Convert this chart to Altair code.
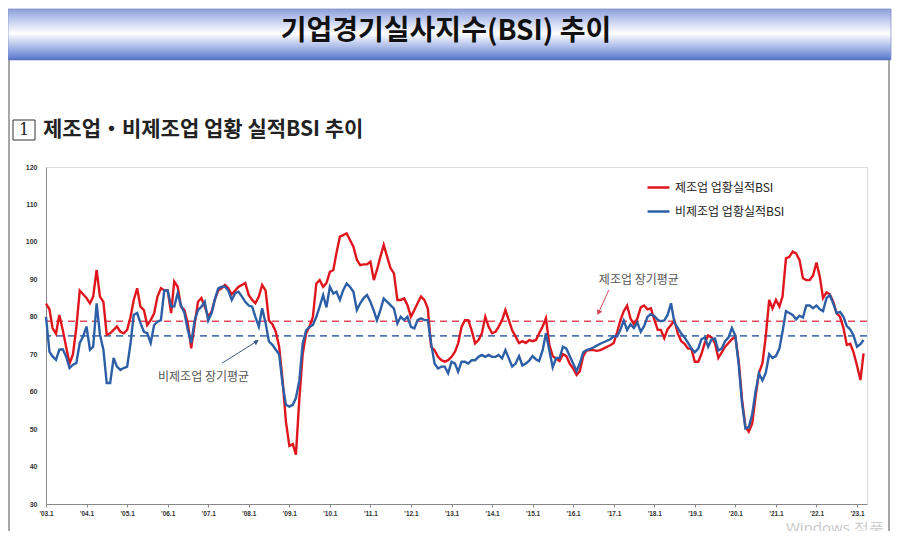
import json
import altair as alt
import pandas as pd

# ---------------- data ----------------
START = "2003-01-01"
SERIES = ["제조업 업황실적BSI", "비제조업 업황실적BSI"]
COLORS = ["#e0161e", "#2d5fa6"]

MANUF = [
    83.5, 82, 77, 75.5, 80.5, 76.5, 72, 67.5, 70, 77, 87, 86,            # 2003
    85, 83.6, 85.4, 92.5, 85.4, 84, 75.2, 75.6, 76.5, 77.4, 76, 75.6,    # 2004
    76.5, 80, 84.5, 87.6, 82.7, 81.8, 77.8, 79.1, 80.9, 85.4, 87.6, 87.1,  # 2005
    87, 81, 89.4, 88, 82.7, 81.8, 78.3, 71.6, 78, 84, 85, 82.7,          # 2006
    80, 81.4, 84.5, 87, 87.6, 88.5, 87.6, 86, 87, 88, 88.5, 89,          # 2007
    85.8, 84.5, 83.6, 85.4, 88.5, 87, 79, 78, 76, 72, 63, 52,            # 2008
    45.5, 46, 43.2, 58, 70, 75.6, 77.3, 80, 88.9, 89.8, 88, 89,          # 2009
    92, 92.5, 97, 101.4, 101.8, 102.3, 100.5, 98.7, 95.2, 93.8, 94, 94,  # 2010
    94.7, 89.8, 92.5, 96, 99.2, 96, 93, 91.6, 84.5, 84.5, 84.9, 83.1,    # 2011
    80, 81.8, 83.6, 85.4, 84.5, 82.2, 72, 71.1, 69.3, 68.4, 68, 68.4,    # 2012
    69.3, 70.7, 72.9, 77.3, 79.1, 79.1, 76.4, 72.9, 73.8, 75.6, 80, 77.3,  # 2013
    75.6, 76, 77.3, 79.1, 81.8, 79.1, 76.4, 74.7, 73, 73.5, 73, 73.8,    # 2014
    73.5, 73.8, 75.6, 77.4, 79.6, 72.5, 69.5, 68.8, 68.2, 70, 69.5, 67.5,  # 2015
    66.2, 64.5, 65.5, 69.5, 71, 71.1, 71.1, 70.9, 71.1, 71.5, 72, 72.4,  # 2016
    73, 76, 79, 81.5, 83, 79.5, 78, 79.5, 82.5, 83, 82, 82.3,            # 2017
    79.3, 76.5, 76.5, 74.3, 76.7, 77.8, 79, 75.5, 73.5, 72.8, 71.5, 71.5,  # 2018
    68, 68, 70, 73, 75, 74.5, 73, 69, 70.5, 72, 73, 74,                  # 2019
    74.7, 68, 58, 50.6, 49.3, 51.5, 58.6, 65, 67.6, 74.7, 84.5, 82.2,    # 2020
    84.5, 82.7, 85.4, 95.6, 96, 97.4, 96.9, 95.2, 90.3, 89.8, 89.8, 91,  # 2021
    94.5, 90.5, 85, 86.5, 86, 84, 81, 80, 77, 72.5, 72.8, 70.5,          # 2022
    67, 63.1, 70.2,                                                      # 2023
]

NONMANUF = [
    80, 70.7, 69.4, 68.5, 71.2, 71.3, 69.4, 66.3, 67.2, 67.6, 73, 74.7,  # 2003
    77.4, 71.2, 72, 83.6, 75.2, 71.2, 62.3, 62.3, 69, 66.7, 65.8, 66.3,  # 2004
    66.7, 73, 80.5, 81, 78.3, 76, 75.6, 73, 77.8, 78.7, 79.1, 87,        # 2005
    87, 82.7, 82.7, 86.3, 83, 81, 76.5, 73, 79, 81.8, 82.7, 84,          # 2006
    79, 81, 84.5, 87.6, 88, 88, 87, 84.5, 86.3, 86.7, 85.4, 84,          # 2007
    83, 82.7, 80, 77.4, 82.3, 78.3, 73.4, 72.5, 71.2, 70, 62, 56.5,      # 2008
    56, 56.5, 58.3, 63, 72.9, 76.4, 77.3, 77.8, 80, 82.7, 85.8, 82.5,    # 2009
    88, 86.2, 86.7, 84.5, 87.1, 88.9, 88, 86.7, 81.8, 83.6, 85, 85.8,    # 2010
    84, 81.6, 79.1, 81.8, 84.9, 84, 83.1, 82.2, 78.2, 80, 79.1, 80,      # 2011
    77.3, 76.9, 79.1, 79.6, 79.1, 79.1, 72.9, 67.5, 66.2, 66.7, 66.7, 64.9,  # 2012
    68, 67.5, 65.3, 68, 68, 67.5, 68.4, 68.4, 69.3, 69.8, 69.3, 69.8,    # 2013
    69.3, 69.3, 69.8, 68.9, 71.1, 68.9, 66.7, 67.5, 69.5, 67, 67.5, 68.3,  # 2014
    69.5, 68.6, 68.2, 71, 75.6, 71, 66.5, 69, 69, 72, 71.5, 69.5,        # 2015
    67.5, 65.5, 67.5, 70.5, 71.1, 71.4, 71.8, 72.3, 72.8, 73.2, 73.6, 74,  # 2016
    74.8, 74.8, 76.5, 79, 76.5, 78, 77, 78.5, 76, 77.5, 80, 80.7,        # 2017
    80.2, 79.2, 78.8, 79, 80.5, 83.6, 78.5, 77, 75.5, 74.5, 73, 71.5,    # 2018
    70.5, 71.5, 74, 74.5, 72, 74, 74.2, 71, 71.5, 73.5, 74.5, 77,        # 2019
    75, 67, 57, 50.2, 50.5, 54, 60, 64.9, 63, 65, 70, 69,                # 2020
    69.5, 71.5, 76, 81.5, 81, 80.5, 79.3, 80.3, 79.8, 83, 83, 82.3,      # 2021
    83, 82, 81.5, 85, 85.8, 83.5, 81, 81.3, 80, 77.5, 76.6, 75,          # 2022
    72, 72.7, 73.8,                                                      # 2023
]

AVG_VALUES = [78.8, 74.9]
AVG_COLORS = ["#e5485a", "#5478b3"]

YEARS = list(range(2003, 2024))
XTICK_LABELS = ["'03.1", "'04.1", "'05.1", "'06.1", "'07.1", "'08.1", "'09.1",
                "'10.1", "'11.1", "'12.1", "'13.1", "'14.1", "'15.1", "'16.1",
                "'17.1", "'18.1", "'19.1", "'20.1", "'21.1", "'22.1", "'23.1"]
Y_TICKS = [30, 40, 50, 60, 70, 80, 90, 100, 110, 120]

TITLE = "기업경기실사지수(BSI) 추이"
SUB_NO = "1"
SUBTITLE = "제조업・비제조업 업황 실적BSI 추이"
WATERMARK = "Windows 정품"

ANN_TEXT = ["제조업 장기평균", "비제조업 장기평균"]
ANN_DATE = ["2017-08-15T00:00:00", "2006-11-20T00:00:00"]
ANN_VALUE = [89.8, 63.9]

ARROW_FROM_DATE = ["2016-11-18T00:00:00", "2007-05-05T00:00:00"]
ARROW_FROM_VALUE = [87.2, 67.6]
ARROW_TO_DATE = ["2016-08-20T00:00:00", "2008-03-05T00:00:00"]
ARROW_TO_VALUE = [81.3, 73.3]
ARROW_ANGLE = [204, 58]
ARROW_COLOR = ["#d9485a", "#3c5a88"]

FONT = "Noto Sans CJK KR"

# ---------------- tables ----------------
dates = pd.date_range(START, periods=len(MANUF), freq="MS").strftime("%Y-%m-%dT00:00:00").tolist()
rows = []
for d, v in zip(dates, MANUF):
    rows.append({"date": d, "value": v, "series": SERIES[0]})
dates_b = pd.date_range(START, periods=len(NONMANUF), freq="MS").strftime("%Y-%m-%dT00:00:00").tolist()
for d, v in zip(dates_b, NONMANUF):
    rows.append({"date": d, "value": v, "series": SERIES[1]})
df = pd.DataFrame(rows)

ann_df = pd.DataFrame({"date": ANN_DATE, "value": ANN_VALUE, "text": ANN_TEXT})
arrow_df = pd.DataFrame({
    "d1": ARROW_FROM_DATE, "v1": ARROW_FROM_VALUE,
    "d2": ARROW_TO_DATE, "v2": ARROW_TO_VALUE,
    "angle": ARROW_ANGLE, "col": ARROW_COLOR,
})
one = pd.DataFrame({"k": [0]})

# ---------------- scales / axes (shared by every layer) ----------------
x_scale = alt.Scale(domain=[alt.DateTime(year=2003, month=1, date=1),
                            alt.DateTime(year=2023, month=4, date=1)])
label_expr = json.dumps(XTICK_LABELS) + "[year(datum.value) - 2003]"
x_axis = alt.Axis(values=[alt.DateTime(year=y, month=1, date=1) for y in YEARS],
                  labelExpr=label_expr, title=None, grid=False,
                  tickSize=3, tickColor="#888", domainColor="#888",
                  labelFontSize=6.5, labelFontWeight="bold", labelColor="#333",
                  labelFont="Liberation Sans", labelPadding=3, labelFlush=False,
                  labelOverlap=False)
y_scale = alt.Scale(domain=[30, 120], nice=False, zero=False)
y_axis = alt.Axis(values=Y_TICKS, title=None, grid=False, ticks=False,
                  domainColor="#888", labelFontSize=7, labelFontWeight="bold",
                  labelColor="#333", labelFont="Liberation Sans", labelPadding=9,
                  labelOverlap=False, labelFlush=False)


def X(field):
    return alt.X(field, type="temporal", scale=x_scale, axis=x_axis)


def Y(field):
    return alt.Y(field, type="quantitative", scale=y_scale, axis=y_axis)


color_enc = alt.Color(
    "series:N", scale=alt.Scale(domain=SERIES, range=COLORS),
    legend=alt.Legend(orient="none", legendX=600, legendY=8, title=None,
                      symbolType="stroke", symbolStrokeWidth=2.5, symbolSize=480,
                      labelFont=FONT, labelFontSize=12, labelColor="#222",
                      rowPadding=5),
)

base = alt.Chart(df)
red_line = base.transform_filter(alt.datum.series == SERIES[0]).mark_line(
    strokeWidth=2.4).encode(x=X("date"), y=Y("value"), color=color_enc)
blue_line = base.transform_filter(alt.datum.series == SERIES[1]).mark_line(
    strokeWidth=2.4).encode(x=X("date"), y=Y("value"), color=color_enc)

avg_df = pd.DataFrame({"avg": AVG_VALUES, "col": AVG_COLORS})
avg_rule = alt.Chart(avg_df).mark_rule(strokeDash=[7, 5], strokeWidth=1.6).encode(
    y=Y("avg"), stroke=alt.Stroke("col:N", scale=None))

ann_text = alt.Chart(ann_df).mark_text(
    font=FONT, fontSize=12, color="#555", align="center", baseline="middle"
).encode(x=X("date"), y=Y("value"), text="text:N")

arrow_line = alt.Chart(arrow_df).mark_rule(strokeWidth=1).encode(
    x=X("d1"), x2="d2:T", y=Y("v1"), y2="v2:Q",
    stroke=alt.Stroke("col:N", scale=None))
arrow_head = alt.Chart(arrow_df).mark_point(
    shape="triangle", filled=True, size=35, opacity=1, strokeWidth=0
).encode(x=X("d2"), y=Y("v2"), angle=alt.Angle("angle:Q", scale=None),
         fill=alt.Fill("col:N", scale=None))

# ---------------- page decoration ----------------
gradient = alt.LinearGradient(
    gradient="linear",
    stops=[alt.GradientStop(color="#8c9fdb", offset=0),
           alt.GradientStop(color="#c9d3f0", offset=0.25),
           alt.GradientStop(color="#ffffff", offset=0.48),
           alt.GradientStop(color="#a9b9e8", offset=0.75),
           alt.GradientStop(color="#6584d3", offset=0.95),
           alt.GradientStop(color="#3f5fae", offset=1)],
    x1=0, x2=0, y1=0, y2=1,
)
header = alt.Chart(one).mark_rect(fill=gradient, stroke="#8595c8", strokeWidth=0.8).encode(
    x=alt.value(-38), x2=alt.value(845), y=alt.value(-158), y2=alt.value(-107))
title = alt.Chart(one).mark_text(
    text=TITLE, font=FONT, fontSize=28, fontWeight="bold", color="#111",
    align="center", baseline="middle").encode(x=alt.value(400), y=alt.value(-135))
left_border = alt.Chart(one).mark_rule(color="#8a8a8a", strokeWidth=1.5).encode(
    x=alt.value(-37), y=alt.value(-107), y2=alt.value(364))
right_border = alt.Chart(one).mark_rule(color="#8a8a8a", strokeWidth=1.5).encode(
    x=alt.value(843), y=alt.value(-107), y2=alt.value(364))
sub_box = alt.Chart(one).mark_rect(fill="white", stroke="#333", strokeWidth=1).encode(
    x=alt.value(-33), x2=alt.value(-11), y=alt.value(-47), y2=alt.value(-27))
sub_no = alt.Chart(one).mark_text(
    text=SUB_NO, font="DejaVu Serif", fontSize=16, color="#222",
    align="center", baseline="middle").encode(x=alt.value(-22), y=alt.value(-37))
sub_text = alt.Chart(one).mark_text(
    text=SUBTITLE, font=FONT, fontSize=21, fontWeight="bold", color="#222",
    align="left", baseline="middle").encode(x=alt.value(-3), y=alt.value(-37))
watermark = alt.Chart(one).mark_text(
    text=WATERMARK, font="Open Sans", fontSize=15, color="#c8c8c8",
    align="left", baseline="middle").encode(x=alt.value(740), y=alt.value(361))

chart = alt.layer(
    avg_rule, red_line, blue_line, header, title, left_border, right_border,
    sub_box, sub_no, sub_text, ann_text, arrow_line, arrow_head, watermark,
).properties(
    width=821, height=337,
    padding={"left": 38, "top": 159, "right": 25, "bottom": 27},
    autosize=alt.AutoSizeParams(type="none"),
).configure_view(
    stroke="#999", strokeWidth=1
).configure(background="white")

chart.save("out.html", embed_options={"renderer": "svg", "actions": False})
